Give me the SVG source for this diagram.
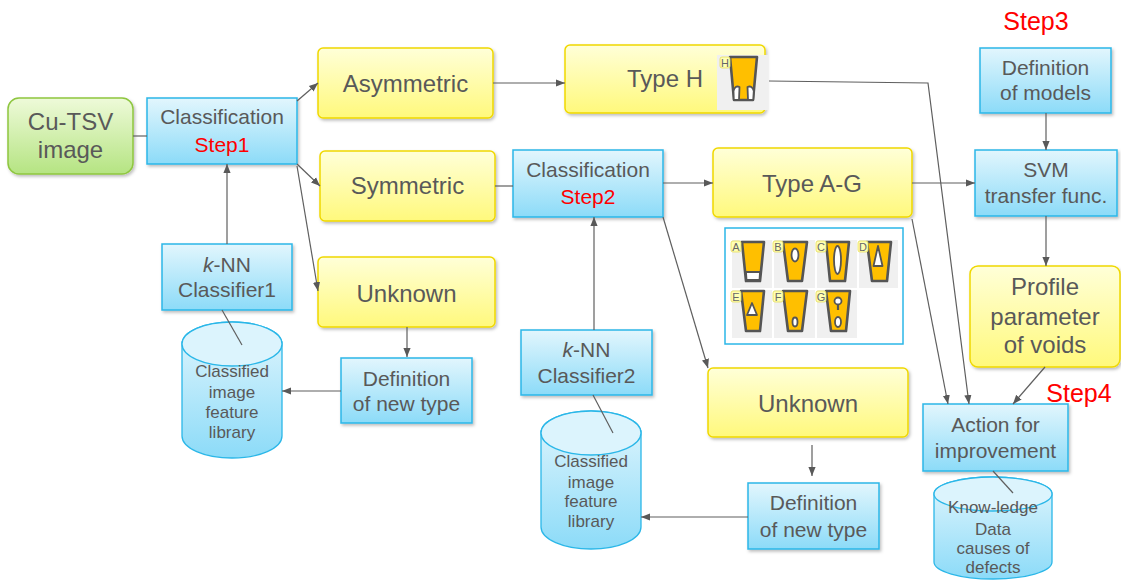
<svg xmlns="http://www.w3.org/2000/svg" width="1121" height="580" viewBox="0 0 1121 580">
  <defs>
    <linearGradient id="gBlue" x1="0" y1="0" x2="0" y2="1">
      <stop offset="0" stop-color="#e2f6fd"/>
      <stop offset="1" stop-color="#8cdbf8"/>
    </linearGradient>
    <linearGradient id="gYellow" x1="0" y1="0" x2="0" y2="1">
      <stop offset="0" stop-color="#ffffd8"/>
      <stop offset="1" stop-color="#fff97c"/>
    </linearGradient>
    <linearGradient id="gGreen" x1="0" y1="0" x2="0" y2="1">
      <stop offset="0" stop-color="#eefad9"/>
      <stop offset="1" stop-color="#b5e482"/>
    </linearGradient>
    <filter id="shadow" x="-10%" y="-10%" width="125%" height="130%">
      <feDropShadow dx="1.5" dy="2" stdDeviation="1.5" flood-color="#000" flood-opacity="0.25"/>
    </filter>
    <marker id="ah" viewBox="0 0 10 10" refX="10" refY="5" markerWidth="9" markerHeight="9" orient="auto" markerUnits="userSpaceOnUse">
      <path d="M0,1 L10,5 L0,9 z" fill="#595959"/>
    </marker>
  </defs>
  <style>
    .blue { fill: url(#gBlue); stroke: #2bb7e8; stroke-width: 1.5; filter: url(#shadow); }
    .yellow { fill: url(#gYellow); stroke: #f0d800; stroke-width: 1.5; filter: url(#shadow); }
    .green { fill: url(#gGreen); stroke: #8ec63f; stroke-width: 1.5; filter: url(#shadow); }
    .cyl { fill: url(#gBlue); stroke: #2bb7e8; stroke-width: 1.3; }
    .cyltop { fill: #dcf4fd; stroke: #2bb7e8; stroke-width: 1.3; }
    text { font-family: "Liberation Sans", Arial, sans-serif; fill: #595959; text-anchor: middle; }
    .t24 { font-size: 24px; }
    .t21 { font-size: 21px; }
    .t17 { font-size: 17px; }
    .red { fill: #ff0000; }
    .step { font-size: 25px; fill: #ff0000; }
    .conn line, .conn polyline { stroke: #5f5f5f; stroke-width: 1.2; fill: none; }
    .arr { marker-end: url(#ah); }
    .cell { fill: #f0f0f0; }
    .via { fill: #ffbf00; stroke: #555; stroke-width: 2.6; stroke-linejoin: round; }
    .void { fill: #fff; stroke: #555; stroke-width: 1.8; stroke-linejoin: round; }
    .tag { fill: #ffffb3; stroke: #e6de5a; stroke-width: 0.8; }
    .tagt { font-size: 11px; fill: #666; }
  </style>

  <!-- nodes -->
  <g id="cu-tsv">
    <rect class="green" x="8" y="98" width="125" height="76" rx="11"/>
    <text class="t24" x="70.5" y="130">Cu-TSV</text>
    <text class="t24" x="70.5" y="158">image</text>
  </g>

  <g id="classification1">
    <rect class="blue" x="147" y="98" width="150" height="66"/>
    <text class="t21" x="222" y="124">Classification</text>
    <text class="t21 red" x="222" y="152">Step1</text>
  </g>

  <g id="asymmetric">
    <rect class="yellow" x="318" y="48" width="175" height="70" rx="5"/>
    <text class="t24" x="405.5" y="92">Asymmetric</text>
  </g>

  <g id="symmetric">
    <rect class="yellow" x="320" y="151" width="175" height="70" rx="5"/>
    <text class="t24" x="407.5" y="194">Symmetric</text>
  </g>

  <g id="unknown1">
    <rect class="yellow" x="318" y="257" width="177" height="70" rx="5"/>
    <text class="t24" x="406.5" y="302">Unknown</text>
  </g>

  <g id="knn1">
    <rect class="blue" x="162" y="244" width="130" height="66"/>
    <text class="t21" x="227" y="272"><tspan font-style="italic">k</tspan>-NN</text>
    <text class="t21" x="227" y="297">Classifier1</text>
  </g>

  <g id="library1">
    <path class="cyl" d="M182,344 V436 A50,22 0 0 0 282,436 V344 A50,22 0 0 0 182,344 Z"/>
    <ellipse class="cyltop" cx="232" cy="344" rx="50" ry="22"/>
    <text class="t17" x="232" y="377">Classified</text>
    <text class="t17" x="232" y="398">image</text>
    <text class="t17" x="232" y="418">feature</text>
    <text class="t17" x="232" y="438">library</text>
  </g>

  <g id="newtype1">
    <rect class="blue" x="341" y="358" width="131" height="65"/>
    <text class="t21" x="406.5" y="386">Definition</text>
    <text class="t21" x="406.5" y="411">of new type</text>
  </g>

  <g id="type-h">
    <rect class="yellow" x="565" y="45" width="200" height="68" rx="5"/>
    <text class="t24" x="665" y="87">Type H</text>
    <rect class="cell" x="717" y="55" width="51" height="55"/>
    <path class="via" d="M730,57 L757,57 L753,100 L734,100 Z"/>
    <path class="void" d="M733.8,100 L733.5,91 Q735,85 739.5,87 L739,100 Z"/>
    <path class="void" d="M753.2,100 L753.8,91 Q752,85 747.5,87 L748,100 Z"/>
    <rect class="tag" x="720" y="57" width="10" height="11" rx="2"/>
    <text class="tagt" x="725" y="66.5">H</text>
  </g>

  <g id="classification2">
    <rect class="blue" x="513" y="150" width="150" height="67"/>
    <text class="t21" x="588" y="177">Classification</text>
    <text class="t21 red" x="588" y="204">Step2</text>
  </g>

  <g id="type-a-g">
    <rect class="yellow" x="713" y="148" width="199" height="69" rx="5"/>
    <text class="t24" x="812" y="192">Type A-G</text>
  </g>

  <g id="void-types">
    <rect x="725" y="228" width="178" height="116" fill="#fff" stroke="#2bb7e8" stroke-width="1.5"/>
    <rect class="cell" x="732" y="240" width="40" height="48"/>
    <rect class="cell" x="774" y="240" width="41" height="48"/>
    <rect class="cell" x="817" y="240" width="40" height="48"/>
    <rect class="cell" x="859" y="240" width="39" height="48"/>
    <rect class="cell" x="732" y="290" width="40" height="48"/>
    <rect class="cell" x="774" y="290" width="41" height="48"/>
    <rect class="cell" x="817" y="290" width="40" height="48"/>
    <!-- A -->
    <path class="via" d="M742,242 L764,242 L760,281 L746,281 Z"/>
    <path class="void" d="M746,272 L760,272 L759.5,280 L746.5,280 Z" stroke="none"/>
    <!-- B -->
    <path class="via" d="M783,242 L807,242 L802,281 L788,281 Z"/>
    <ellipse class="void" cx="795" cy="255" rx="3.5" ry="6.5"/>
    <!-- C -->
    <path class="via" d="M826,242 L849,242 L845,281 L830,281 Z"/>
    <ellipse class="void" cx="837.5" cy="260" rx="3.5" ry="14"/>
    <!-- D -->
    <path class="via" d="M867,242 L891,242 L887,281 L872,281 Z"/>
    <path class="void" d="M878,246 L882.5,266 L873.5,266 Z"/>
    <!-- E -->
    <path class="via" d="M741,291 L764,291 L760,331 L746,331 Z"/>
    <path class="void" d="M752,303 L757,315 L747,315 Z"/>
    <!-- F -->
    <path class="via" d="M783,291 L807,291 L802,331 L788,331 Z"/>
    <ellipse class="void" cx="795" cy="322" rx="2.5" ry="4.5"/>
    <!-- G -->
    <path class="via" d="M826,291 L850,291 L846,331 L831,331 Z"/>
    <circle class="void" cx="838" cy="301" r="3.5"/>
    <line x1="838" y1="304" x2="838" y2="310" stroke="#555" stroke-width="2.2"/>
    <ellipse class="void" cx="838" cy="322" rx="3" ry="5"/>
    <!-- letter tags -->
    <rect class="tag" x="731" y="241" width="10" height="11" rx="2"/>
    <text class="tagt" x="736" y="250.5">A</text>
    <rect class="tag" x="773" y="241" width="10" height="11" rx="2"/>
    <text class="tagt" x="778" y="250.5">B</text>
    <rect class="tag" x="816" y="241" width="10" height="11" rx="2"/>
    <text class="tagt" x="821" y="250.5">C</text>
    <rect class="tag" x="858" y="241" width="10" height="11" rx="2"/>
    <text class="tagt" x="863" y="250.5">D</text>
    <rect class="tag" x="731" y="291" width="10" height="11" rx="2"/>
    <text class="tagt" x="736" y="300.5">E</text>
    <rect class="tag" x="773" y="291" width="10" height="11" rx="2"/>
    <text class="tagt" x="778" y="300.5">F</text>
    <rect class="tag" x="816" y="291" width="10" height="11" rx="2"/>
    <text class="tagt" x="821" y="300.5">G</text>
  </g>

  <g id="knn2">
    <rect class="blue" x="521" y="330" width="131" height="65"/>
    <text class="t21" x="586.5" y="357"><tspan font-style="italic">k</tspan>-NN</text>
    <text class="t21" x="586.5" y="383">Classifier2</text>
  </g>

  <g id="library2">
    <path class="cyl" d="M541,433 V527 A50,22 0 0 0 641,527 V433 A50,22 0 0 0 541,433 Z"/>
    <ellipse class="cyltop" cx="591" cy="433" rx="50" ry="22"/>
    <text class="t17" x="591" y="467">Classified</text>
    <text class="t17" x="591" y="488">image</text>
    <text class="t17" x="591" y="507">feature</text>
    <text class="t17" x="591" y="527">library</text>
  </g>

  <g id="unknown2">
    <rect class="yellow" x="708" y="368" width="200" height="69" rx="5"/>
    <text class="t24" x="808" y="412">Unknown</text>
  </g>

  <g id="newtype2">
    <rect class="blue" x="748" y="483" width="131" height="66"/>
    <text class="t21" x="813.5" y="510">Definition</text>
    <text class="t21" x="813.5" y="537">of new type</text>
  </g>

  <g id="step3-label">
    <text class="step" x="1036" y="30">Step3</text>
  </g>

  <g id="models">
    <rect class="blue" x="980" y="48" width="131" height="65"/>
    <text class="t21" x="1045.5" y="75">Definition</text>
    <text class="t21" x="1045.5" y="100">of models</text>
  </g>

  <g id="svm">
    <rect class="blue" x="975" y="150" width="142" height="66"/>
    <text class="t21" x="1046" y="177">SVM</text>
    <text class="t21" x="1046" y="203">transfer func.</text>
  </g>

  <g id="profile">
    <rect class="yellow" x="970" y="266" width="150" height="101" rx="8"/>
    <text class="t24" x="1045" y="295">Profile</text>
    <text class="t24" x="1045" y="325">parameter</text>
    <text class="t24" x="1045" y="353">of voids</text>
  </g>

  <g id="step4-label">
    <text class="step" x="1079" y="402">Step4</text>
  </g>

  <g id="action">
    <rect class="blue" x="923" y="404" width="145" height="67"/>
    <text class="t21" x="995.5" y="432">Action for</text>
    <text class="t21" x="995.5" y="458">improvement</text>
  </g>

  <g id="knowledge">
    <path class="cyl" d="M934,494 V562 A59,17 0 0 0 1052,562 V494 A59,17 0 0 0 934,494 Z"/>
    <ellipse class="cyltop" cx="993" cy="494" rx="59" ry="17"/>
    <text class="t17" x="993" y="513">Know-ledge</text>
    <text class="t17" x="993" y="535">Data</text>
    <text class="t17" x="993" y="554">causes of</text>
    <text class="t17" x="993" y="573">defects</text>
  </g>

  <!-- connectors -->
  <g id="connectors" class="conn">
    <line x1="133" y1="136" x2="147" y2="136"/>
    <line class="arr" x1="297" y1="101" x2="318" y2="83"/>
    <line class="arr" x1="297" y1="164" x2="320" y2="186"/>
    <line class="arr" x1="297" y1="166" x2="318" y2="291"/>
    <line class="arr" x1="493" y1="83" x2="565" y2="83"/>
    <line x1="495" y1="186" x2="513" y2="186"/>
    <line class="arr" x1="663" y1="183" x2="713" y2="183"/>
    <line class="arr" x1="912" y1="183" x2="975" y2="183"/>
    <line class="arr" x1="1046" y1="113" x2="1046" y2="150"/>
    <line class="arr" x1="1046" y1="216" x2="1046" y2="266"/>
    <line class="arr" x1="1045" y1="367" x2="1013" y2="404"/>
    <polyline class="arr" points="769,81 928,83 969,404"/>
    <line class="arr" x1="912" y1="219" x2="948" y2="404"/>
    <line class="arr" x1="663" y1="217" x2="708" y2="368"/>
    <line class="arr" x1="812" y1="445" x2="812" y2="476"/>
    <line class="arr" x1="748" y1="517" x2="641" y2="517"/>
    <line class="arr" x1="594" y1="330" x2="594" y2="217"/>
    <line x1="593" y1="395" x2="613" y2="433"/>
    <line class="arr" x1="227" y1="244" x2="227" y2="164"/>
    <line x1="222" y1="310" x2="242" y2="345"/>
    <line class="arr" x1="407" y1="327" x2="407" y2="357"/>
    <line class="arr" x1="341" y1="391" x2="282" y2="391"/>
    <line x1="993" y1="471" x2="1013" y2="493"/>
  </g>
</svg>
